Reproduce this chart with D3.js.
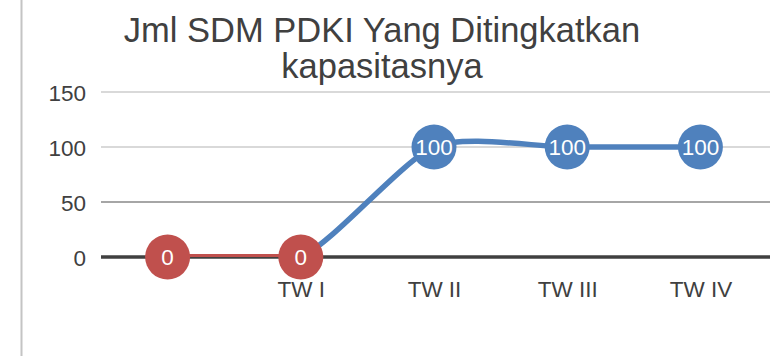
<!DOCTYPE html>
<html>
<head>
<meta charset="utf-8">
<script src="https://cdn.jsdelivr.net/npm/d3@7"></script>
<style>
  html, body { margin: 0; padding: 0; background: #fff; }
  svg { display: block; font-family: "Liberation Sans", Arial, Helvetica, sans-serif; }
</style>
</head>
<body>
<svg id="chart" width="770" height="356"></svg>
<script>
// Quarterly data
const categories = ["", "TW I", "TW II", "TW III", "TW IV"];
const values = [0, 0, 100, 100, 100];
const yTicks = [0, 50, 100, 150];
const titleLines = ["Jml SDM PDKI Yang Ditingkatkan", "kapasitasnya"];

const W = 770, H = 356;
const plot = { left: 101, right: 767, top: 92, bottom: 257 };

const svg = d3.select("#chart");

// frame edge on the left
svg.append("line")
  .attr("x1", 21.5).attr("x2", 21.5)
  .attr("y1", 0).attr("y2", H)
  .attr("stroke", "#c4c4c4").attr("stroke-width", 2);

// title
svg.append("g")
  .selectAll("text")
  .data(titleLines)
  .join("text")
  .attr("x", 382)
  .attr("y", (d, i) => 42 + i * 36)
  .attr("text-anchor", "middle")
  .attr("fill", "#404040")
  .attr("font-size", 34.5)
  .text(d => d);

const x = d3.scalePoint()
  .domain(categories.map((c, i) => i))
  .range([plot.left, plot.right])
  .padding(0.5);

const y = d3.scaleLinear()
  .domain([0, 150])
  .range([plot.bottom, plot.top]);

// horizontal gridlines
svg.append("g")
  .selectAll("line")
  .data(yTicks.filter(t => t !== 0))
  .join("line")
  .attr("x1", plot.left).attr("x2", W)
  .attr("y1", d => y(d)).attr("y2", d => y(d))
  .attr("stroke", d => d === 50 ? "#a6a6a6" : "#d9d9d9")
  .attr("stroke-width", 2);

// y axis labels
const yAxis = d3.axisLeft(y).tickValues(yTicks).tickSize(0).tickPadding(0);
svg.append("g")
  .attr("transform", "translate(86,0)")
  .call(yAxis)
  .call(g => g.select(".domain").remove())
  .call(g => g.selectAll("text")
    .attr("fill", "#404040")
    .attr("font-size", 22.5)
    .attr("font-family", "\"Liberation Sans\", Arial, sans-serif")
    .attr("dy", "0.36em"));

// zero baseline
svg.append("line")
  .attr("x1", plot.left).attr("x2", W)
  .attr("y1", y(0)).attr("y2", y(0))
  .attr("stroke", "#404040").attr("stroke-width", 3.5);

// x axis labels
const xAxis = d3.axisBottom(x).tickFormat(i => categories[i]).tickSize(0).tickPadding(0);
svg.append("g")
  .attr("transform", `translate(0,${y(0)})`)
  .call(xAxis)
  .call(g => g.select(".domain").remove())
  .call(g => g.selectAll("text")
    .attr("fill", "#404040")
    .attr("font-size", 22.5)
    .attr("font-family", "\"Liberation Sans\", Arial, sans-serif")
    .attr("dy", null)
    .attr("y", 40));

const pts = values.map((v, i) => [x(i), y(v)]);

// smoothed series line (blue part starts at TW I)
svg.append("clipPath").attr("id", "afterFirst")
  .append("rect")
  .attr("x", x(1)).attr("y", 0)
  .attr("width", W - x(1)).attr("height", H);

const smooth = d3.line().curve(d3.curveCardinal.tension(0.3));
svg.append("path")
  .attr("d", smooth(pts))
  .attr("clip-path", "url(#afterFirst)")
  .attr("fill", "none")
  .attr("stroke", "#4f81bd")
  .attr("stroke-width", 5.5)
  .attr("stroke-linecap", "round");

// first segment in red
svg.append("path")
  .attr("d", d3.line()(pts.slice(0, 2)))
  .attr("fill", "none")
  .attr("stroke", "#c0504d")
  .attr("stroke-width", 3)
  .attr("transform", "translate(0,-1.5)");

// markers with value labels
const colorOf = i => i < 2 ? "#c0504d" : "#4f81bd";
const marks = svg.append("g")
  .selectAll("g")
  .data(values)
  .join("g")
  .attr("transform", (d, i) => `translate(${x(i)},${y(d)})`);

marks.append("circle")
  .attr("r", 22.5)
  .attr("fill", (d, i) => colorOf(i));

marks.append("text")
  .attr("text-anchor", "middle")
  .attr("dy", "0.36em")
  .attr("fill", "#ffffff")
  .attr("font-size", 22.5)
  .text(d => d);
</script>
</body>
</html>
